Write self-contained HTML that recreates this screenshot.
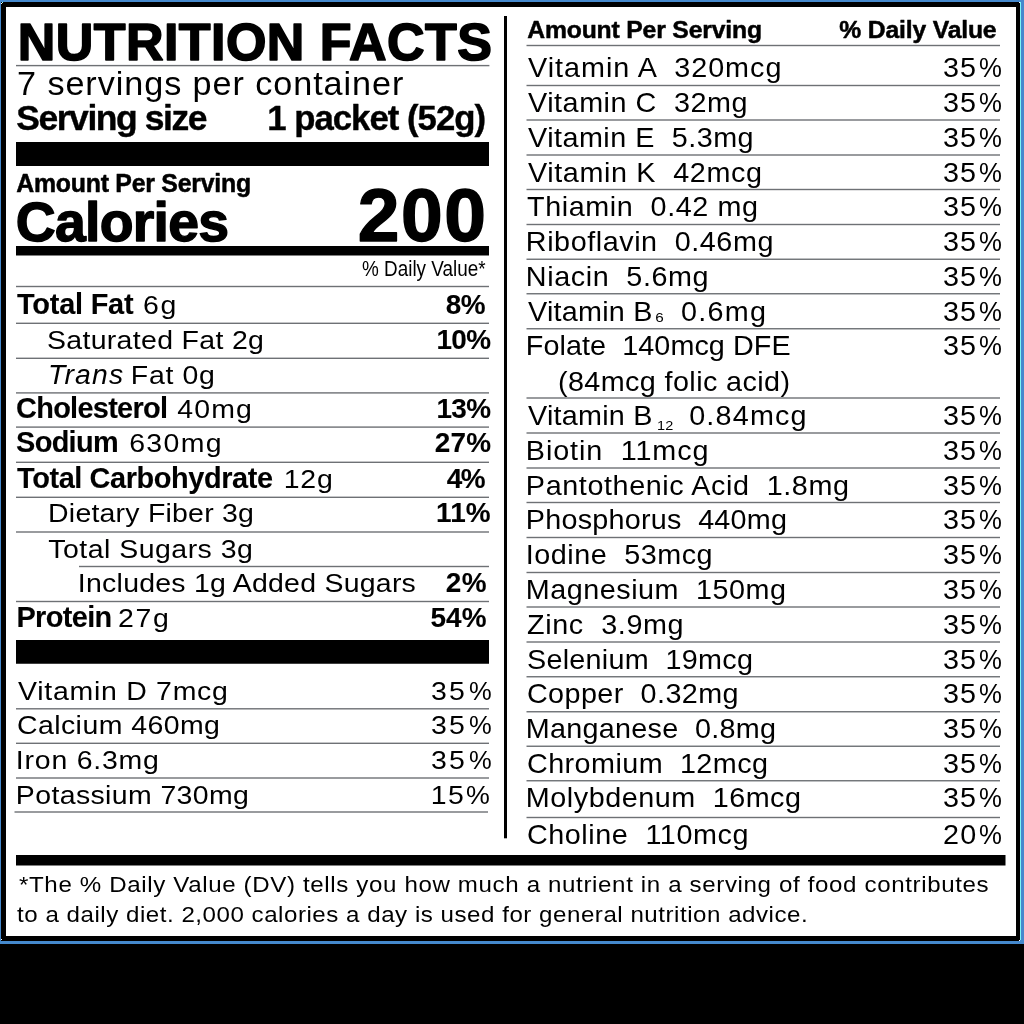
<!DOCTYPE html>
<html><head><meta charset="utf-8"><style>
html,body{margin:0;padding:0;background:#000;width:1024px;height:1024px;overflow:hidden}
.blue{position:absolute;left:0;top:0;width:1024px;height:944px;background:#4589cd}
.blk{position:absolute;left:1px;top:2px;width:1019px;height:939px;background:#000}
.cy{position:absolute;left:1020px;top:2px;width:1px;height:938px;background:#7ff5f5}
.wht{position:absolute;left:6px;top:7px;width:1010px;height:929px;background:#fff}
.dot{position:absolute;width:1px;height:1px;background:#fff}
svg{position:absolute;left:0;top:0;will-change:transform}
text{font-family:"Liberation Sans",sans-serif;fill:#000;white-space:pre}
</style></head><body>
<div class="blue"></div><div class="blk"></div><div class="cy"></div><div class="wht"></div>
<div class="dot" style="left:2px;top:2px;background:#9ff"></div><div class="dot" style="left:1px;top:3px"></div><div class="dot" style="left:1019px;top:2px"></div><div class="dot" style="left:1px;top:939px"></div><div class="dot" style="left:1019px;top:940px"></div>
<svg width="1024" height="1024" viewBox="0 0 1024 1024" style="white-space:pre">
<rect x="16.00" y="64.90" width="473.40" height="1.40" fill="#6e7175"/>
<rect x="16.00" y="142.00" width="473.00" height="24.00" fill="#000"/>
<rect x="16.00" y="246.00" width="473.00" height="9.50" fill="#000"/>
<rect x="16.00" y="285.80" width="473.00" height="1.40" fill="#6e7175"/>
<rect x="16.00" y="322.60" width="473.00" height="1.40" fill="#6e7175"/>
<rect x="16.00" y="357.60" width="473.00" height="1.40" fill="#6e7175"/>
<rect x="16.00" y="392.20" width="473.00" height="1.40" fill="#6e7175"/>
<rect x="16.00" y="426.40" width="473.00" height="1.40" fill="#6e7175"/>
<rect x="16.00" y="461.60" width="473.00" height="1.40" fill="#6e7175"/>
<rect x="16.00" y="496.60" width="473.00" height="1.40" fill="#6e7175"/>
<rect x="16.00" y="531.30" width="473.00" height="1.40" fill="#6e7175"/>
<rect x="16.00" y="600.80" width="473.00" height="1.40" fill="#6e7175"/>
<rect x="79.00" y="565.80" width="410.00" height="1.40" fill="#6e7175"/>
<rect x="16.00" y="640.00" width="473.00" height="23.75" fill="#000"/>
<rect x="16.00" y="708.10" width="473.00" height="1.40" fill="#6e7175"/>
<rect x="16.00" y="742.60" width="473.00" height="1.40" fill="#6e7175"/>
<rect x="16.00" y="777.30" width="473.00" height="1.40" fill="#6e7175"/>
<rect x="14.50" y="811.30" width="473.50" height="1.40" fill="#6e7175"/>
<rect x="526.50" y="44.80" width="473.50" height="1.40" fill="#6e7175"/>
<rect x="526.50" y="84.80" width="473.50" height="1.40" fill="#6e7175"/>
<rect x="526.50" y="119.30" width="473.50" height="1.40" fill="#6e7175"/>
<rect x="526.50" y="154.30" width="473.50" height="1.40" fill="#6e7175"/>
<rect x="526.50" y="188.80" width="473.50" height="1.40" fill="#6e7175"/>
<rect x="526.50" y="223.80" width="473.50" height="1.40" fill="#6e7175"/>
<rect x="526.50" y="258.55" width="473.50" height="1.40" fill="#6e7175"/>
<rect x="526.50" y="293.05" width="473.50" height="1.40" fill="#6e7175"/>
<rect x="526.50" y="328.05" width="473.50" height="1.40" fill="#6e7175"/>
<rect x="526.50" y="397.30" width="473.50" height="1.40" fill="#6e7175"/>
<rect x="526.50" y="432.30" width="473.50" height="1.40" fill="#6e7175"/>
<rect x="526.50" y="467.30" width="473.50" height="1.40" fill="#6e7175"/>
<rect x="526.50" y="501.80" width="473.50" height="1.40" fill="#6e7175"/>
<rect x="526.50" y="536.80" width="473.50" height="1.40" fill="#6e7175"/>
<rect x="526.50" y="571.80" width="473.50" height="1.40" fill="#6e7175"/>
<rect x="526.50" y="606.30" width="473.50" height="1.40" fill="#6e7175"/>
<rect x="526.50" y="641.30" width="473.50" height="1.40" fill="#6e7175"/>
<rect x="526.50" y="676.05" width="473.50" height="1.40" fill="#6e7175"/>
<rect x="526.50" y="711.05" width="473.50" height="1.40" fill="#6e7175"/>
<rect x="526.50" y="745.55" width="473.50" height="1.40" fill="#6e7175"/>
<rect x="526.50" y="780.05" width="473.50" height="1.40" fill="#6e7175"/>
<rect x="526.50" y="816.80" width="473.50" height="1.40" fill="#6e7175"/>
<rect x="504.00" y="16.00" width="3.00" height="822.30" fill="#000"/>
<rect x="16.00" y="855.00" width="989.50" height="10.50" fill="#000"/>
<text x="17.80" y="60.40" font-size="52.04" font-weight="bold" letter-spacing="0.413" stroke="#000" stroke-width="1.6" stroke-linejoin="round">NUTRITION FACTS</text>
<text x="0.00" y="95.00" font-size="34.16"  letter-spacing="0.940" transform="translate(17.00,0) scale(1.0010,1)">7 servings per container</text>
<text x="16.20" y="130.30" font-size="35.47" font-weight="bold" letter-spacing="-1.417" stroke="#000" stroke-width="0.4" stroke-linejoin="round">Serving size</text>
<text x="267.20" y="130.30" font-size="34.74" font-weight="bold" letter-spacing="-0.984" stroke="#000" stroke-width="0.4" stroke-linejoin="round">1 packet (52g)</text>
<text x="16.25" y="191.60" font-size="24.86" font-weight="bold" letter-spacing="-0.244" stroke="#000" stroke-width="0.5" stroke-linejoin="round">Amount Per Serving</text>
<text x="15.70" y="240.75" font-size="55.38" font-weight="bold" letter-spacing="-0.725" stroke="#000" stroke-width="1.4" stroke-linejoin="round">Calories</text>
<text x="357.70" y="240.75" font-size="75.00" font-weight="bold" letter-spacing="1.589" stroke="#000" stroke-width="1.4" stroke-linejoin="round">200</text>
<text x="0.00" y="276.00" font-size="21.80"  letter-spacing="0.000" transform="translate(362.00,0) scale(0.8669,1)">% Daily Value*</text>
<text x="17.05" y="314.30" font-size="28.92" font-weight="bold" letter-spacing="-0.221" stroke="#000" stroke-width="0.1" stroke-linejoin="round">Total Fat</text>
<text x="0.00" y="314.20" font-size="26.60"  letter-spacing="1.751" transform="translate(142.93,0) scale(1.0700,1)">6g</text>
<text x="445.65" y="314.20" font-size="27.91" font-weight="bold" letter-spacing="-0.411" stroke="#000" stroke-width="0.1" stroke-linejoin="round">8%</text>
<text x="0.00" y="348.70" font-size="26.60"  letter-spacing="0.315" transform="translate(46.93,0) scale(1.0700,1)">Saturated Fat 2g</text>
<text x="436.45" y="348.60" font-size="27.91" font-weight="bold" letter-spacing="-0.661" stroke="#000" stroke-width="0.1" stroke-linejoin="round">10%</text>
<text x="48.00" y="384.00" font-size="28.34" font-style="italic" letter-spacing="1.214">Trans</text>
<text x="0.00" y="384.00" font-size="26.60"  letter-spacing="0.627" transform="translate(130.86,0) scale(1.0700,1)">Fat 0g</text>
<text x="16.05" y="417.90" font-size="28.92" font-weight="bold" letter-spacing="-0.708" stroke="#000" stroke-width="0.1" stroke-linejoin="round">Cholesterol</text>
<text x="0.00" y="417.90" font-size="26.60"  letter-spacing="1.090" transform="translate(177.20,0) scale(1.0700,1)">40mg</text>
<text x="436.45" y="417.90" font-size="27.91" font-weight="bold" letter-spacing="-0.661" stroke="#000" stroke-width="0.1" stroke-linejoin="round">13%</text>
<text x="16.05" y="452.40" font-size="28.92" font-weight="bold" letter-spacing="-0.677" stroke="#000" stroke-width="0.1" stroke-linejoin="round">Sodium</text>
<text x="0.00" y="452.40" font-size="26.60"  letter-spacing="1.297" transform="translate(129.13,0) scale(1.0700,1)">630mg</text>
<text x="434.85" y="452.40" font-size="27.91" font-weight="bold" letter-spacing="0.139" stroke="#000" stroke-width="0.1" stroke-linejoin="round">27%</text>
<text x="17.05" y="488.00" font-size="28.92" font-weight="bold" letter-spacing="-0.405" stroke="#000" stroke-width="0.1" stroke-linejoin="round">Total Carbohydrate</text>
<text x="0.00" y="487.60" font-size="26.60"  letter-spacing="0.807" transform="translate(283.66,0) scale(1.0700,1)">12g</text>
<text x="446.65" y="487.60" font-size="27.91" font-weight="bold" letter-spacing="-1.411" stroke="#000" stroke-width="0.1" stroke-linejoin="round">4%</text>
<text x="0.00" y="522.40" font-size="26.60"  letter-spacing="0.216" transform="translate(48.06,0) scale(1.0700,1)">Dietary Fiber 3g</text>
<text x="436.05" y="522.40" font-size="27.91" font-weight="bold" letter-spacing="0.108" stroke="#000" stroke-width="0.1" stroke-linejoin="round">11%</text>
<text x="0.00" y="557.60" font-size="26.60"  letter-spacing="0.469" transform="translate(48.20,0) scale(1.0700,1)">Total Sugars 3g</text>
<text x="0.00" y="592.00" font-size="26.60"  letter-spacing="0.238" transform="translate(77.86,0) scale(1.0700,1)">Includes 1g Added Sugars</text>
<text x="445.85" y="592.00" font-size="27.91" font-weight="bold" letter-spacing="0.389" stroke="#000" stroke-width="0.1" stroke-linejoin="round">2%</text>
<text x="16.45" y="627.00" font-size="28.92" font-weight="bold" letter-spacing="-0.637" stroke="#000" stroke-width="0.1" stroke-linejoin="round">Protein</text>
<text x="0.00" y="627.00" font-size="26.60"  letter-spacing="1.616" transform="translate(117.93,0) scale(1.0700,1)">27g</text>
<text x="430.45" y="627.00" font-size="27.91" font-weight="bold" letter-spacing="0.139" stroke="#000" stroke-width="0.1" stroke-linejoin="round">54%</text>
<text x="0.00" y="700.00" font-size="26.60"  letter-spacing="0.693" transform="translate(18.00,0) scale(1.0700,1)">Vitamin D 7mcg</text>
<text x="0.00" y="700.00" font-size="26.60"  letter-spacing="2.125" transform="translate(430.93,0) scale(1.0700,1)">35</text>
<text x="0.00" y="700.00" font-size="26.60"  letter-spacing="0.000" transform="translate(469.00,0) scale(0.9595,1)">%</text>
<text x="0.00" y="734.30" font-size="26.60"  letter-spacing="0.416" transform="translate(16.93,0) scale(1.0700,1)">Calcium 460mg</text>
<text x="0.00" y="734.30" font-size="26.60"  letter-spacing="2.125" transform="translate(430.93,0) scale(1.0700,1)">35</text>
<text x="0.00" y="734.30" font-size="26.60"  letter-spacing="0.000" transform="translate(469.00,0) scale(0.9595,1)">%</text>
<text x="0.00" y="769.30" font-size="26.60"  letter-spacing="0.730" transform="translate(15.86,0) scale(1.0700,1)">Iron 6.3mg</text>
<text x="0.00" y="769.30" font-size="26.60"  letter-spacing="2.125" transform="translate(430.93,0) scale(1.0700,1)">35</text>
<text x="0.00" y="769.30" font-size="26.60"  letter-spacing="0.000" transform="translate(469.00,0) scale(0.9595,1)">%</text>
<text x="0.00" y="803.80" font-size="26.60"  letter-spacing="0.358" transform="translate(15.86,0) scale(1.0700,1)">Potassium 730mg</text>
<text x="0.00" y="803.80" font-size="26.60"  letter-spacing="1.256" transform="translate(430.86,0) scale(1.0700,1)">15</text>
<text x="0.00" y="803.80" font-size="26.60"  letter-spacing="0.000" transform="translate(466.00,0) scale(1.0075,1)">%</text>
<text x="527.25" y="37.70" font-size="24.71" font-weight="bold" letter-spacing="-0.161" stroke="#000" stroke-width="0.5" stroke-linejoin="round">Amount Per Serving</text>
<text x="839.25" y="37.70" font-size="24.71" font-weight="bold" letter-spacing="-0.162" stroke="#000" stroke-width="0.5" stroke-linejoin="round">% Daily Value</text>
<text x="0.00" y="77.50" font-size="26.89"  letter-spacing="0.923" transform="translate(528.00,0) scale(1.0700,1)">Vitamin A  320mcg</text>
<text x="0.00" y="77.50" font-size="26.89"  letter-spacing="1.025" transform="translate(942.93,0) scale(1.0700,1)">35</text>
<text x="0.00" y="77.50" font-size="26.89"  letter-spacing="0.000" transform="translate(979.00,0) scale(0.9576,1)">%</text>
<text x="0.00" y="111.90" font-size="26.89"  letter-spacing="0.493" transform="translate(528.00,0) scale(1.0700,1)">Vitamin C  32mg</text>
<text x="0.00" y="111.90" font-size="26.89"  letter-spacing="1.025" transform="translate(942.93,0) scale(1.0700,1)">35</text>
<text x="0.00" y="111.90" font-size="26.89"  letter-spacing="0.000" transform="translate(979.00,0) scale(0.9576,1)">%</text>
<text x="0.00" y="146.80" font-size="26.89"  letter-spacing="0.447" transform="translate(528.00,0) scale(1.0700,1)">Vitamin E  5.3mg</text>
<text x="0.00" y="146.80" font-size="26.89"  letter-spacing="1.025" transform="translate(942.93,0) scale(1.0700,1)">35</text>
<text x="0.00" y="146.80" font-size="26.89"  letter-spacing="0.000" transform="translate(979.00,0) scale(0.9576,1)">%</text>
<text x="0.00" y="182.00" font-size="26.89"  letter-spacing="0.572" transform="translate(528.00,0) scale(1.0700,1)">Vitamin K  42mcg</text>
<text x="0.00" y="182.00" font-size="26.89"  letter-spacing="1.025" transform="translate(942.93,0) scale(1.0700,1)">35</text>
<text x="0.00" y="182.00" font-size="26.89"  letter-spacing="0.000" transform="translate(979.00,0) scale(0.9576,1)">%</text>
<text x="0.00" y="216.40" font-size="26.89"  letter-spacing="0.552" transform="translate(527.00,0) scale(1.0700,1)">Thiamin  0.42 mg</text>
<text x="0.00" y="216.40" font-size="26.89"  letter-spacing="1.025" transform="translate(942.93,0) scale(1.0700,1)">35</text>
<text x="0.00" y="216.40" font-size="26.89"  letter-spacing="0.000" transform="translate(979.00,0) scale(0.9576,1)">%</text>
<text x="0.00" y="251.30" font-size="26.89"  letter-spacing="0.516" transform="translate(525.86,0) scale(1.0700,1)">Riboflavin  0.46mg</text>
<text x="0.00" y="251.30" font-size="26.89"  letter-spacing="1.025" transform="translate(942.93,0) scale(1.0700,1)">35</text>
<text x="0.00" y="251.30" font-size="26.89"  letter-spacing="0.000" transform="translate(979.00,0) scale(0.9576,1)">%</text>
<text x="0.00" y="285.80" font-size="26.89"  letter-spacing="0.541" transform="translate(525.86,0) scale(1.0700,1)">Niacin  5.6mg</text>
<text x="0.00" y="285.80" font-size="26.89"  letter-spacing="1.025" transform="translate(942.93,0) scale(1.0700,1)">35</text>
<text x="0.00" y="285.80" font-size="26.89"  letter-spacing="0.000" transform="translate(979.00,0) scale(0.9576,1)">%</text>
<text x="0.00" y="320.60" font-size="26.89"  letter-spacing="1.025" transform="translate(942.93,0) scale(1.0700,1)">35</text>
<text x="0.00" y="320.60" font-size="26.89"  letter-spacing="0.000" transform="translate(979.00,0) scale(0.9576,1)">%</text>
<text x="0.00" y="355.50" font-size="26.89"  letter-spacing="0.056" transform="translate(525.86,0) scale(1.0700,1)">Folate  140mcg DFE</text>
<text x="0.00" y="355.50" font-size="26.89"  letter-spacing="1.025" transform="translate(942.93,0) scale(1.0700,1)">35</text>
<text x="0.00" y="355.50" font-size="26.89"  letter-spacing="0.000" transform="translate(979.00,0) scale(0.9576,1)">%</text>
<text x="0.00" y="425.30" font-size="26.89"  letter-spacing="1.025" transform="translate(942.93,0) scale(1.0700,1)">35</text>
<text x="0.00" y="425.30" font-size="26.89"  letter-spacing="0.000" transform="translate(979.00,0) scale(0.9576,1)">%</text>
<text x="0.00" y="460.10" font-size="26.89"  letter-spacing="0.815" transform="translate(525.86,0) scale(1.0700,1)">Biotin  11mcg</text>
<text x="0.00" y="460.10" font-size="26.89"  letter-spacing="1.025" transform="translate(942.93,0) scale(1.0700,1)">35</text>
<text x="0.00" y="460.10" font-size="26.89"  letter-spacing="0.000" transform="translate(979.00,0) scale(0.9576,1)">%</text>
<text x="0.00" y="495.00" font-size="26.89"  letter-spacing="0.554" transform="translate(525.86,0) scale(1.0700,1)">Pantothenic Acid  1.8mg</text>
<text x="0.00" y="495.00" font-size="26.89"  letter-spacing="1.025" transform="translate(942.93,0) scale(1.0700,1)">35</text>
<text x="0.00" y="495.00" font-size="26.89"  letter-spacing="0.000" transform="translate(979.00,0) scale(0.9576,1)">%</text>
<text x="0.00" y="529.40" font-size="26.89"  letter-spacing="0.221" transform="translate(525.86,0) scale(1.0700,1)">Phosphorus  440mg</text>
<text x="0.00" y="529.40" font-size="26.89"  letter-spacing="1.025" transform="translate(942.93,0) scale(1.0700,1)">35</text>
<text x="0.00" y="529.40" font-size="26.89"  letter-spacing="0.000" transform="translate(979.00,0) scale(0.9576,1)">%</text>
<text x="0.00" y="564.30" font-size="26.89"  letter-spacing="0.476" transform="translate(525.86,0) scale(1.0700,1)">Iodine  53mcg</text>
<text x="0.00" y="564.30" font-size="26.89"  letter-spacing="1.025" transform="translate(942.93,0) scale(1.0700,1)">35</text>
<text x="0.00" y="564.30" font-size="26.89"  letter-spacing="0.000" transform="translate(979.00,0) scale(0.9576,1)">%</text>
<text x="0.00" y="599.30" font-size="26.89"  letter-spacing="0.474" transform="translate(525.86,0) scale(1.0700,1)">Magnesium  150mg</text>
<text x="0.00" y="599.30" font-size="26.89"  letter-spacing="1.025" transform="translate(942.93,0) scale(1.0700,1)">35</text>
<text x="0.00" y="599.30" font-size="26.89"  letter-spacing="0.000" transform="translate(979.00,0) scale(0.9576,1)">%</text>
<text x="0.00" y="633.90" font-size="26.89"  letter-spacing="0.597" transform="translate(527.00,0) scale(1.0700,1)">Zinc  3.9mg</text>
<text x="0.00" y="633.90" font-size="26.89"  letter-spacing="1.025" transform="translate(942.93,0) scale(1.0700,1)">35</text>
<text x="0.00" y="633.90" font-size="26.89"  letter-spacing="0.000" transform="translate(979.00,0) scale(0.9576,1)">%</text>
<text x="0.00" y="668.80" font-size="26.89"  letter-spacing="0.261" transform="translate(526.93,0) scale(1.0700,1)">Selenium  19mcg</text>
<text x="0.00" y="668.80" font-size="26.89"  letter-spacing="1.025" transform="translate(942.93,0) scale(1.0700,1)">35</text>
<text x="0.00" y="668.80" font-size="26.89"  letter-spacing="0.000" transform="translate(979.00,0) scale(0.9576,1)">%</text>
<text x="0.00" y="703.40" font-size="26.89"  letter-spacing="0.394" transform="translate(526.93,0) scale(1.0700,1)">Copper  0.32mg</text>
<text x="0.00" y="703.40" font-size="26.89"  letter-spacing="1.025" transform="translate(942.93,0) scale(1.0700,1)">35</text>
<text x="0.00" y="703.40" font-size="26.89"  letter-spacing="0.000" transform="translate(979.00,0) scale(0.9576,1)">%</text>
<text x="0.00" y="738.30" font-size="26.89"  letter-spacing="0.247" transform="translate(525.86,0) scale(1.0700,1)">Manganese  0.8mg</text>
<text x="0.00" y="738.30" font-size="26.89"  letter-spacing="1.025" transform="translate(942.93,0) scale(1.0700,1)">35</text>
<text x="0.00" y="738.30" font-size="26.89"  letter-spacing="0.000" transform="translate(979.00,0) scale(0.9576,1)">%</text>
<text x="0.00" y="773.30" font-size="26.89"  letter-spacing="0.412" transform="translate(526.93,0) scale(1.0700,1)">Chromium  12mcg</text>
<text x="0.00" y="773.30" font-size="26.89"  letter-spacing="1.025" transform="translate(942.93,0) scale(1.0700,1)">35</text>
<text x="0.00" y="773.30" font-size="26.89"  letter-spacing="0.000" transform="translate(979.00,0) scale(0.9576,1)">%</text>
<text x="0.00" y="807.50" font-size="26.89"  letter-spacing="0.481" transform="translate(525.86,0) scale(1.0700,1)">Molybdenum  16mcg</text>
<text x="0.00" y="807.50" font-size="26.89"  letter-spacing="1.025" transform="translate(942.93,0) scale(1.0700,1)">35</text>
<text x="0.00" y="807.50" font-size="26.89"  letter-spacing="0.000" transform="translate(979.00,0) scale(0.9576,1)">%</text>
<text x="0.00" y="844.50" font-size="26.89"  letter-spacing="0.522" transform="translate(526.93,0) scale(1.0700,1)">Choline  110mcg</text>
<text x="0.00" y="844.50" font-size="26.89"  letter-spacing="1.212" transform="translate(942.93,0) scale(1.0700,1)">20</text>
<text x="0.00" y="844.50" font-size="26.89"  letter-spacing="0.000" transform="translate(979.00,0) scale(0.9576,1)">%</text>
<text x="0.00" y="320.60" font-size="26.89"  letter-spacing="0.217" transform="translate(528.00,0) scale(1.0700,1)">Vitamin B</text>
<text x="0.00" y="321.60" font-size="12.94"  letter-spacing="0.000" transform="translate(655.20,0) scale(1.1803,1)">6</text>
<text x="0.00" y="320.60" font-size="26.89"  letter-spacing="1.206" transform="translate(680.93,0) scale(1.0700,1)">0.6mg</text>
<text x="0.00" y="390.60" font-size="26.89"  letter-spacing="0.371" transform="translate(557.93,0) scale(1.0700,1)">(84mcg folic acid)</text>
<text x="0.00" y="425.00" font-size="26.89"  letter-spacing="0.217" transform="translate(528.00,0) scale(1.0700,1)">Vitamin B</text>
<text x="0.00" y="429.70" font-size="13.52"  letter-spacing="0.324" transform="translate(656.93,0) scale(1.0700,1)">12</text>
<text x="0.00" y="425.00" font-size="26.89"  letter-spacing="1.120" transform="translate(689.13,0) scale(1.0700,1)">0.84mcg</text>
<text x="0.00" y="892.50" font-size="22.53"  letter-spacing="0.591" transform="translate(19.00,0) scale(1.0700,1)">*The % Daily Value (DV) tells you how much a nutrient in a serving of food contributes</text>
<text x="0.00" y="921.75" font-size="22.53"  letter-spacing="0.493" transform="translate(17.00,0) scale(1.0700,1)">to a daily diet. 2,000 calories a day is used for general nutrition advice.</text>
</svg>
</body></html>
